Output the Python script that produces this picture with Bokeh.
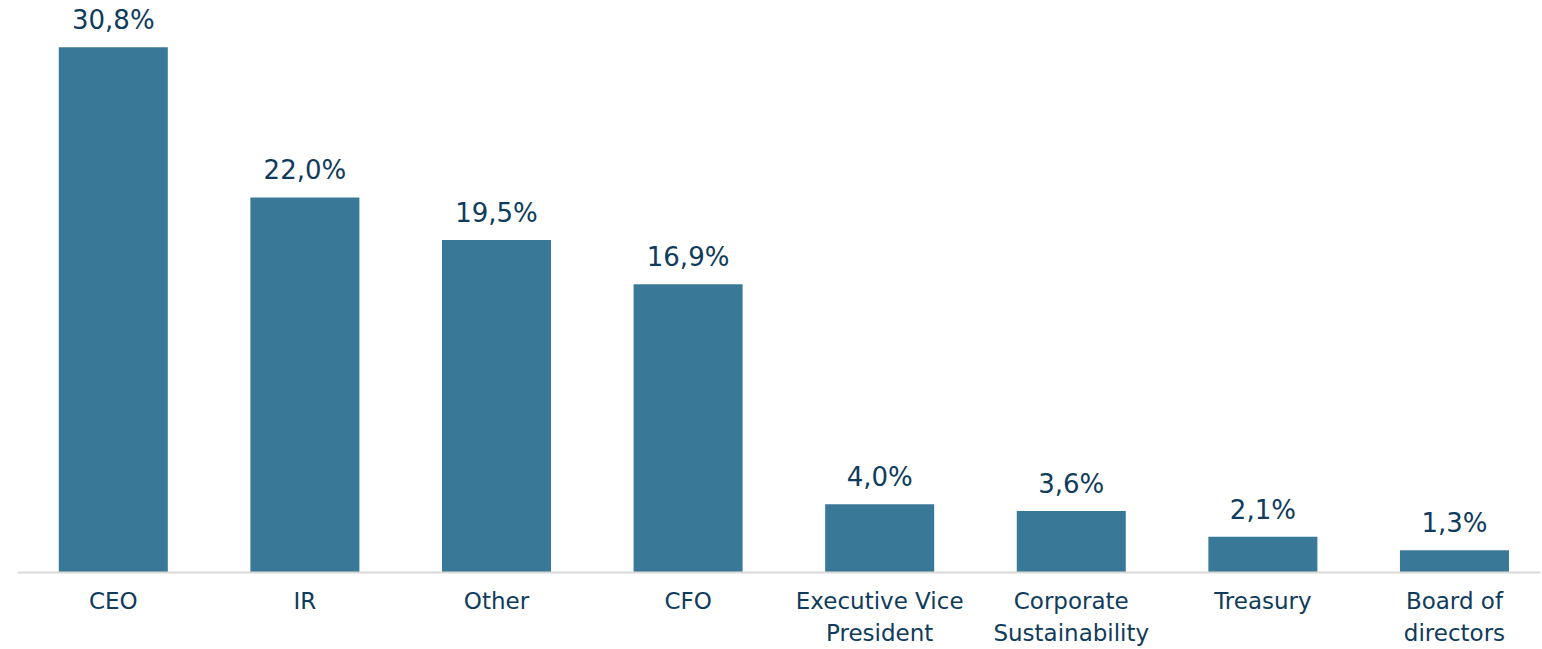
from bokeh.plotting import figure
from bokeh.models import ColumnDataSource, Range1d, FixedTicker
from bokeh.core.properties import value
from bokeh.embed import file_html
from bokeh.resources import INLINE

categories = ["CEO", "IR", "Other", "CFO", "Executive Vice\nPresident",
              "Corporate\nSustainability", "Treasury", "Board of\ndirectors"]
shares = [30.8, 22.0, 19.5, 16.9, 4.0, 3.6, 2.1, 1.3]
labels = [f"{v:.1f}%".replace(".", ",") for v in shares]
positions = list(range(len(categories)))

FONT = "DejaVu Sans"
TEXT = "#0f3b5c"
BAR = "#3a7898"

src = ColumnDataSource(dict(x=positions, v=shares, lab=labels))

p = figure(x_range=Range1d(-0.5, 7.449), y_range=Range1d(0, 33.08), width=1542, height=649,
           output_backend="svg", toolbar_location=None,
           min_border_left=17, min_border_right=2, min_border_top=8, min_border_bottom=76)
p.outline_line_color = None
p.background_fill_color = "white"
p.border_fill_color = "white"

p.vbar(x="x", top="v", width=0.569, source=src, color=BAR, line_color=None)
p.text(x="x", y="v", text="lab", source=src, text_align="center", text_baseline="alphabetic",
       y_offset=-27, text_font=value(FONT), text_font_size="26px", text_color=TEXT)

p.yaxis.visible = False
p.xgrid.grid_line_color = None
p.ygrid.grid_line_color = None
p.xaxis.ticker = FixedTicker(ticks=positions)
p.xaxis.major_label_overrides = {i: c for i, c in zip(positions, categories)}
p.xaxis.axis_line_color = "#d9d9d9"
p.xaxis.axis_line_width = 2
p.xaxis.major_tick_line_color = None
p.xaxis.minor_tick_line_color = None
p.xaxis.major_label_text_font = FONT
p.xaxis.major_label_text_font_size = "23px"
p.xaxis.major_label_text_line_height = 1.25
p.xaxis.major_label_text_color = TEXT
p.xaxis.major_label_standoff = 9

open("out.html", "w").write(file_html(p, INLINE))
